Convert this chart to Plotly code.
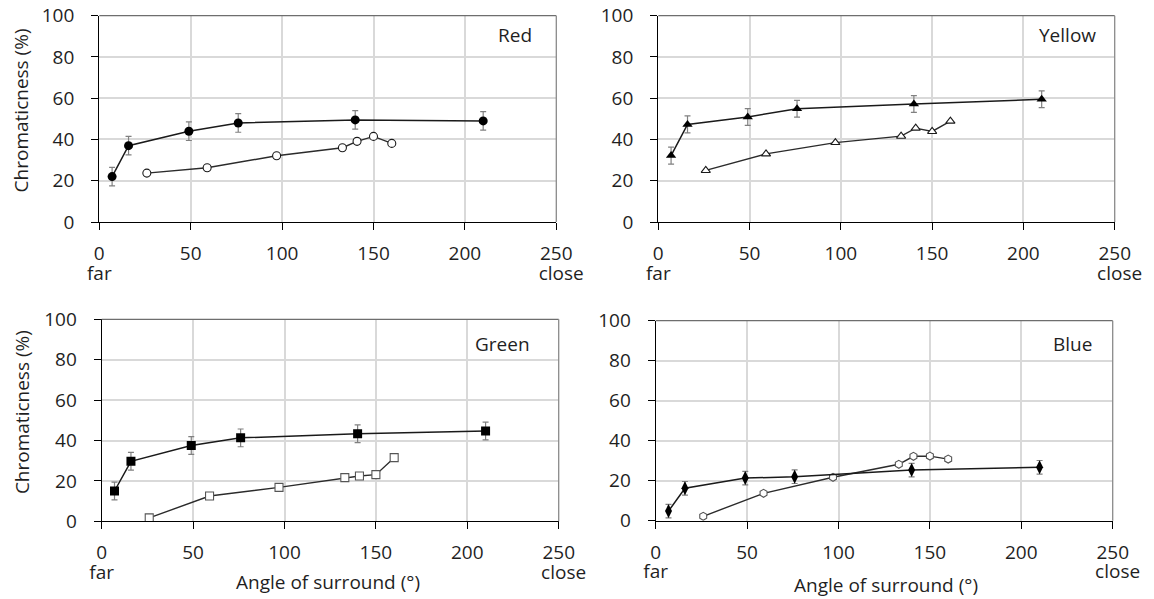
import plotly.graph_objects as go

# Viewing angles (degrees) at which each series was measured
angle_main = [7, 16, 49, 76, 140, 210]
angle_alt = [26, 59, 97, 133, 141, 150, 160]

# Chromaticness (%) per hue: main series with error bars, alternative series without
red_main = [22, 37, 44, 48, 49.5, 49]
red_err = [4.5, 4.5, 4.5, 4.5, 4.5, 4.5]
red_alt = [23.7, 26.3, 32.1, 36, 39.1, 41.5, 38.1]

yellow_main = [32.2, 47.3, 50.9, 54.9, 57.2, 59.5]
yellow_err = [4.1, 4.1, 4.1, 4.1, 4.1, 4.1]
yellow_alt = [25, 33, 38.5, 41.6, 45.5, 43.9, 48.9]

green_main = [15, 29.7, 37.5, 41.3, 43.3, 44.7]
green_err = [4.4, 4.4, 4.4, 4.4, 4.4, 4.4]
green_alt = [1.7, 12.5, 16.8, 21.6, 22.4, 23.1, 31.5]

blue_main = [4.8, 16.2, 21.3, 22, 25.3, 26.7]
blue_err = [3.4, 3.4, 3.4, 3.4, 3.4, 3.4]
blue_alt = [2.2, 13.7, 21.7, 28.2, 32.2, 32.3, 30.8]

hue_names = ["Red", "Yellow", "Green", "Blue"]
x_ticks = [0, 50, 100, 150, 200, 250]
x_tick_text = ["0<br>far", "50", "100", "150", "200", "250<br>\u00a0\u00a0close"]
y_ticks = [0, 20, 40, 60, 80, 100]

W, H = 1154, 599
FONT = "Open Sans"
TXT = "#1f1f1f"
FS = 19

# Plot-area rectangles in pixels: (left, right, top, bottom)
boxes = [
    (99.3, 556.3, 15.7, 222.0),
    (658.3, 1114.7, 15.7, 222.0),
    (101.7, 558.7, 319.3, 521.3),
    (655.7, 1112.7, 320.7, 520.7),
]

# per panel: main marker, alt marker, alt outline colour, hue label position (domain x, y)
panels = [
    (red_main, red_err, red_alt, "circle", "circle", "#1a1a1a", (0.910, 0.906)),
    (yellow_main, yellow_err, yellow_alt, "triangle-up", "triangle-up", "#1a1a1a", (0.897, 0.906)),
    (green_main, green_err, green_alt, "square", "square", "#555555", (0.878, 0.876)),
    (blue_main, blue_err, blue_alt, "diamond-tall", "hexagon", "#555555", (0.913, 0.882)),
]


def big(s):
    return "<span style='font-size:%dpx'>%s</span>" % (FS, s)


fig = go.Figure()
layout = dict(
    width=W, height=H,
    margin=dict(l=0, r=0, t=0, b=0, autoexpand=False),
    paper_bgcolor="white", plot_bgcolor="white",
    showlegend=False,
    font=dict(family=FONT, size=FS, color=TXT),
)
annotations = []
shapes = []

for i, ((main, err, alt, sym_main, sym_alt, alt_edge, lab_pos), (l, r, t, b)) in enumerate(
        zip(panels, boxes)):
    n = "" if i == 0 else str(i + 1)
    xa, ya = "x" + n, "y" + n
    layout["xaxis" + n] = dict(
        domain=[l / W, r / W], anchor=ya, range=[0, 250], automargin=False,
        tickvals=x_ticks,
        ticktext=["<br>".join(big(p) for p in s.split("<br>")) for s in x_tick_text],
        ticks="outside", ticklen=7, tickcolor="black", tickwidth=1.3,
        showline=True, linecolor="black", linewidth=1.3,
        showgrid=True, gridcolor="#d9d9d9", gridwidth=1.5, zeroline=False,
        tickfont=dict(family=FONT, size=15, color=TXT), ticklabelstandoff=12,
    )
    layout["yaxis" + n] = dict(
        domain=[1 - b / H, 1 - t / H], anchor=xa, range=[0, 100], automargin=False,
        tickvals=y_ticks, ticks="outside", ticklen=7, tickcolor="black", tickwidth=1.3,
        showline=True, linecolor="black", linewidth=1.3,
        showgrid=True, gridcolor="#d9d9d9", gridwidth=1.5, zeroline=False,
        tickfont=dict(family=FONT, size=FS, color=TXT), ticklabelstandoff=13,
    )
    # top and right frame of each panel
    shapes.append(dict(type="line", xref=xa + " domain", yref=ya + " domain",
                       x0=0, x1=1, y0=1, y1=1, line=dict(color="#6e6e6e", width=1.3)))
    shapes.append(dict(type="line", xref=xa + " domain", yref=ya + " domain",
                       x0=1, x1=1, y0=0, y1=1, line=dict(color="#8a8a8a", width=1.3)))

    fig.add_trace(go.Scatter(
        x=angle_alt, y=alt, xaxis=xa, yaxis=ya, mode="lines+markers",
        line=dict(color="#2b2b2b", width=1.4),
        marker=dict(symbol=sym_alt, size=8,
                    color="white", line=dict(color=alt_edge, width=1.1)),
    ))
    fig.add_trace(go.Scatter(
        x=angle_main, y=main, xaxis=xa, yaxis=ya, mode="lines+markers",
        line=dict(color="#1a1a1a", width=1.5),
        marker=dict(symbol=sym_main, size=9 if sym_main != "diamond-tall" else 10,
                    color="black"),
        error_y=dict(type="data", array=err, visible=True, color="#808080",
                     thickness=1.2, width=3),
    ))

    # hue label in the upper right of the panel
    annotations.append(dict(
        text=hue_names[i], xref=xa + " domain", yref=ya + " domain",
        x=lab_pos[0], y=lab_pos[1], showarrow=False,
        font=dict(family=FONT, size=FS, color=TXT), xanchor="center", yanchor="middle",
    ))

# axis titles
for yc in (110, 411.7):
    annotations.append(dict(
        text="Chromaticness (%)", xref="paper", yref="paper", x=21.4 / W, y=1 - yc / H,
        textangle=-90, showarrow=False, font=dict(family=FONT, size=FS, color=TXT),
        xanchor="center", yanchor="middle",
    ))
for xc, yc in ((328, 581.7), (886, 585)):
    annotations.append(dict(
        text="Angle of surround (°)", xref="paper", yref="paper", x=xc / W, y=1 - yc / H,
        showarrow=False, font=dict(family=FONT, size=FS, color=TXT),
        xanchor="center", yanchor="middle",
    ))

layout["annotations"] = annotations
layout["shapes"] = shapes
fig.update_layout(**layout)
fig.write_html("out.html")
